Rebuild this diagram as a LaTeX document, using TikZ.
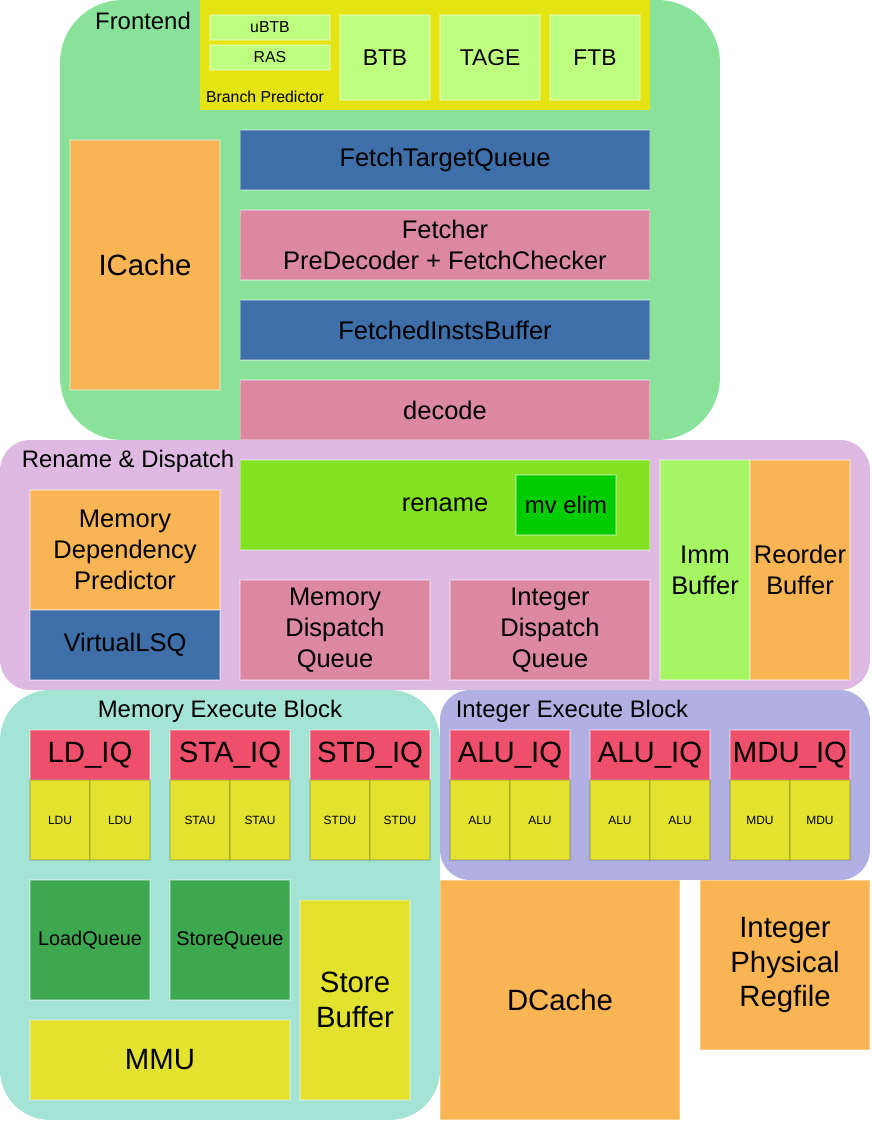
\documentclass[tikz,border=0pt]{standalone}
\usepackage{fontspec}
\setmainfont{Liberation Sans}
\usepackage{tikz}
\usepackage{xcolor}
\definecolor{frontgreen}{RGB}{136,226,154}
\definecolor{bpyellow}{RGB}{228,228,18}
\definecolor{bplime}{RGB}{190,255,127}
\definecolor{cacheorange}{RGB}{249,181,83}
\definecolor{queueblue}{RGB}{62,111,168}
\definecolor{stagepink}{RGB}{220,136,162}
\definecolor{renamelav}{RGB}{222,186,226}
\definecolor{renamegreen}{RGB}{130,226,33}
\definecolor{mvgreen}{RGB}{0,204,0}
\definecolor{immgreen}{RGB}{166,245,98}
\definecolor{memteal}{RGB}{163,228,212}
\definecolor{iqred}{RGB}{238,80,107}
\definecolor{fuyellow}{RGB}{226,226,47}
\definecolor{lsqgreen}{RGB}{61,168,79}
\definecolor{intpurple}{RGB}{176,176,226}
\newcommand{\sizecell}{\fontsize{6.8}{8}\selectfont}
\newcommand{\sizesmall}{\fontsize{9}{11}\selectfont}
\newcommand{\sizequeue}{\fontsize{11.3}{13.5}\selectfont}
\newcommand{\sizeunit}{\fontsize{13}{15.6}\selectfont}
\newcommand{\sizehead}{\fontsize{13.6}{16.3}\selectfont}
\newcommand{\sizetext}{\fontsize{14.5}{17.6}\selectfont}
\newcommand{\sizebig}{\fontsize{16.7}{19.8}\selectfont}
\tikzstyle{region} = [rectangle, inner sep=0pt]
\tikzstyle{block} = [rectangle, inner sep=0pt, align=center, text=black, draw=white, draw opacity=0.3, line width=0.6pt]
\tikzstyle{cell} = [rectangle, inner sep=0pt, align=center, fill=fuyellow, draw=black, draw opacity=0.12, line width=0.6pt, minimum width=1.2cm, minimum height=1.6cm, font=\sizecell]

\begin{document}
\begin{tikzpicture}[x=0.02cm, y=-0.02cm]
    \useasboundingbox (0,0) rectangle (872,1122);

    % Frontend
    \node[region, fill=frontgreen, rounded corners=1.25cm, minimum width=13.2cm, minimum height=8.8cm] (frontend) at (390,220) {};
    \node[font=\sizehead] (frontendlbl) at (143,21) {Frontend};
    \node[region, fill=bpyellow, minimum width=9cm, minimum height=2.2cm] (bp) at (425,55) {};
    \node[font=\sizesmall] (bplbl) at (265,97) {Branch Predictor};
    \node[block, fill=bplime, minimum width=2.4cm, minimum height=0.5cm, font=\sizesmall] (ubtb) at (270,27.5) {uBTB};
    \node[block, fill=bplime, minimum width=2.4cm, minimum height=0.5cm, font=\sizesmall] (ras) at (270,57.5) {RAS};
    \node[block, fill=bplime, minimum width=1.8cm, minimum height=1.7cm, font=\sizeunit] (btb) at (385,57.5) {BTB};
    \node[block, fill=bplime, minimum width=2cm, minimum height=1.7cm, font=\sizeunit] (tage) at (490,57.5) {TAGE};
    \node[block, fill=bplime, minimum width=1.8cm, minimum height=1.7cm, font=\sizeunit] (ftb) at (595,57.5) {FTB};
    \node[block, fill=cacheorange, minimum width=3cm, minimum height=5cm, font=\sizebig] (icache) at (145,265) {ICache};
    \node[block, fill=queueblue, minimum width=8.2cm, minimum height=1.2cm, font=\sizetext] (ftq) at (445,160) {FetchTargetQueue};
    \node[block, fill=stagepink, minimum width=8.2cm, minimum height=1.4cm, font=\sizetext] (fetcher) at (445,245) {Fetcher\\PreDecoder + FetchChecker};
    \node[block, fill=queueblue, minimum width=8.2cm, minimum height=1.2cm, font=\sizetext] (fib) at (445,330) {FetchedInstsBuffer};
    \node[block, fill=stagepink, minimum width=8.2cm, minimum height=1.2cm, font=\sizetext] (decode) at (445,410) {decode};

    % Rename & Dispatch
    \node[region, fill=renamelav, rounded corners=0.6cm, minimum width=17.4cm, minimum height=5cm] (renamedisp) at (435,565) {};
    \node[font=\sizehead] (renamedisplbl) at (128,461) {Rename \& Dispatch};
    \node[block, fill=cacheorange, minimum width=3.8cm, minimum height=2.4cm, font=\sizetext] (mdp) at (125,550) {Memory\\Dependency\\Predictor};
    \node[block, fill=queueblue, minimum width=3.8cm, minimum height=1.4cm, font=\sizetext] (vlsq) at (125,645) {VirtualLSQ};
    \node[block, fill=renamegreen, minimum width=8.2cm, minimum height=1.8cm, font=\sizetext] (rename) at (445,505) {rename};
    \node[block, fill=mvgreen, minimum width=2cm, minimum height=1.2cm, font=\sizehead] (mvelim) at (566,505) {mv elim};
    \node[block, fill=stagepink, minimum width=3.8cm, minimum height=2cm, font=\sizetext] (mdq) at (335,630) {Memory\\Dispatch\\Queue};
    \node[block, fill=stagepink, minimum width=4cm, minimum height=2cm, font=\sizetext] (idq) at (550,630) {Integer\\Dispatch\\Queue};
    \node[block, fill=immgreen, minimum width=1.8cm, minimum height=4.4cm, font=\sizetext] (imm) at (705,570) {Imm\\Buffer};
    \node[block, fill=cacheorange, minimum width=2cm, minimum height=4.4cm, font=\sizetext] (rob) at (800,570) {Reorder\\Buffer};

    % Execute blocks
    \node[region, fill=memteal, rounded corners=1cm, minimum width=8.8cm, minimum height=8.6cm] (memexe) at (220,905) {};
    \node[font=\sizehead] (memexelbl) at (220,711) {Memory Execute Block};
    \node[region, fill=intpurple, rounded corners=0.6cm, minimum width=8.6cm, minimum height=3.8cm] (intexe) at (655,785) {};
    \node[font=\sizehead] (intexelbl) at (572,711) {Integer Execute Block};
    \foreach \cx/\iq/\fu/\nm in {90/LD\_IQ/LDU/ld, 230/STA\_IQ/STAU/sta, 370/STD\_IQ/STDU/std, 510/ALU\_IQ/ALU/alua, 650/ALU\_IQ/ALU/alub, 790/MDU\_IQ/MDU/mdu} {
        \node[block, fill=iqred, minimum width=2.4cm, minimum height=1cm, font=\sizebig] (\nm iq) at (\cx,755) {\iq};
        \node[cell] (\nm fua) at (\cx-30,820) {\fu};
        \node[cell] (\nm fub) at (\cx+30,820) {\fu};
    }
    \node[block, fill=lsqgreen, minimum width=2.4cm, minimum height=2.4cm, font=\sizequeue] (lq) at (90,940) {LoadQueue};
    \node[block, fill=lsqgreen, minimum width=2.4cm, minimum height=2.4cm, font=\sizequeue] (sq) at (230,940) {StoreQueue};
    \node[block, fill=fuyellow, minimum width=2.2cm, minimum height=4cm, font=\sizebig] (sbuf) at (355,1000) {Store\\Buffer};
    \node[block, fill=fuyellow, minimum width=5.2cm, minimum height=1.6cm, font=\sizebig] (mmu) at (160,1060) {MMU};

    % Caches and regfile
    \node[block, fill=cacheorange, minimum width=4.8cm, minimum height=4.8cm, font=\sizebig] (dcache) at (560,1000) {DCache};
    \node[block, fill=cacheorange, minimum width=3.4cm, minimum height=3.4cm, font=\sizebig] (intprf) at (785,965) {Integer\\Physical\\Regfile};
\end{tikzpicture}
\end{document}
